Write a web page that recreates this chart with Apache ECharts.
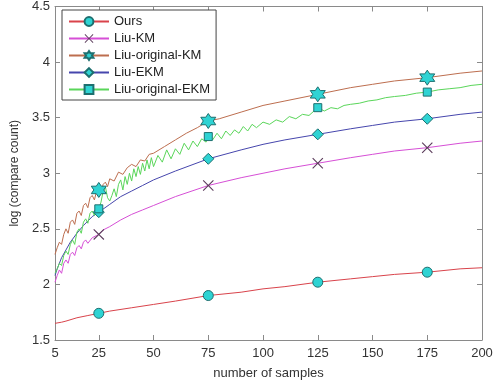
<!DOCTYPE html>
<html>
<head>
<meta charset="utf-8">
<script src="https://cdn.jsdelivr.net/npm/echarts@6/dist/echarts.min.js"></script>
<style>
  html, body { margin: 0; padding: 0; background: #fff; }
  #chart { width: 502px; height: 385px; }
</style>
</head>
<body>
<div id="chart"></div>
<script>
// x positions where markers are drawn
var markX = [25, 75, 125, 175];
var xTicks = [5, 25, 50, 75, 100, 125, 150, 175, 200];

// Ours
var oursX = [5, 8, 10, 15, 20, 25, 30, 40, 50, 60, 75, 90, 100, 110, 125, 140, 150, 160, 175, 190, 200];
var oursY = [1.65, 1.66, 1.67, 1.70, 1.72, 1.74, 1.76, 1.79, 1.82, 1.85, 1.90, 1.93, 1.96, 1.98, 2.02, 2.05, 2.07, 2.09, 2.11, 2.14, 2.15];

// Liu-KM
var kmX = [5, 6, 7, 8, 9, 10, 11, 12, 13, 14, 15, 16, 17, 18, 19, 20, 22, 24, 25, 27, 30, 35, 40, 45, 50, 60, 75, 90, 100, 110, 125, 140, 150, 160, 175, 190, 200];
var kmY = [2.02, 2.08, 2.13, 2.10, 2.19, 2.22, 2.19, 2.27, 2.29, 2.26, 2.33, 2.35, 2.32, 2.38, 2.40, 2.37, 2.42, 2.44, 2.45, 2.49, 2.52, 2.58, 2.63, 2.67, 2.71, 2.79, 2.89, 2.96, 3.00, 3.04, 3.09, 3.14, 3.17, 3.20, 3.23, 3.27, 3.29];

// Liu-original-KM
var okmX = [5, 6, 7, 8, 9, 10, 11, 12, 13, 14, 15, 16, 17, 18, 19, 20, 21, 22, 23, 24, 25, 26, 27, 28, 29, 30, 32, 34, 36, 38, 40, 42, 44, 46, 48, 50, 55, 60, 65, 70, 75, 80, 90, 100, 110, 125, 140, 150, 160, 175, 190, 200];
var okmY = [2.27, 2.33, 2.38, 2.36, 2.45, 2.50, 2.46, 2.56, 2.58, 2.54, 2.64, 2.66, 2.62, 2.71, 2.73, 2.69, 2.78, 2.80, 2.76, 2.84, 2.85, 2.83, 2.90, 2.92, 2.88, 2.95, 2.93, 3.01, 2.99, 3.05, 3.08, 3.06, 3.12, 3.11, 3.17, 3.18, 3.24, 3.30, 3.36, 3.41, 3.47, 3.49, 3.55, 3.61, 3.65, 3.71, 3.77, 3.80, 3.83, 3.86, 3.90, 3.92];

// Liu-EKM
var ekmX = [5, 6, 7, 8, 10, 12, 15, 18, 20, 22, 25, 30, 35, 40, 45, 50, 60, 75, 90, 100, 110, 125, 140, 150, 160, 175, 190, 200];
var ekmY = [2.08, 2.14, 2.19, 2.24, 2.31, 2.38, 2.46, 2.53, 2.57, 2.61, 2.65, 2.72, 2.79, 2.84, 2.89, 2.94, 3.02, 3.13, 3.21, 3.26, 3.30, 3.35, 3.40, 3.43, 3.46, 3.49, 3.53, 3.55];

// Liu-original-EKM
var oekmX = [5, 6, 7, 8, 9, 10, 11, 12, 13, 14, 15, 16, 17, 18, 19, 20, 21, 22, 23, 24, 25, 26, 27, 28, 29, 30, 31, 32, 33, 34, 35, 36, 37, 38, 39, 40, 41, 42, 43, 44, 45, 46, 47, 48, 49, 50, 52, 54, 56, 58, 60, 62, 64, 66, 68, 70, 72, 74, 75, 77, 79, 81, 83, 85, 87, 89, 91, 93, 95, 97, 100, 103, 106, 109, 112, 115, 118, 121, 125, 128, 131, 134, 137, 140, 144, 148, 152, 156, 160, 165, 170, 175, 180, 185, 190, 195, 200];
var oekmY = [2.10, 2.14, 2.19, 2.17, 2.26, 2.30, 2.27, 2.36, 2.40, 2.36, 2.47, 2.50, 2.46, 2.56, 2.59, 2.55, 2.64, 2.66, 2.62, 2.70, 2.68, 2.74, 2.84, 2.88, 2.78, 2.75, 2.80, 2.86, 2.79, 2.90, 2.94, 2.85, 2.97, 2.90, 3.00, 2.93, 3.04, 2.97, 3.06, 2.99, 3.09, 3.02, 3.12, 3.04, 3.14, 3.06, 3.16, 3.10, 3.21, 3.13, 3.22, 3.17, 3.27, 3.21, 3.29, 3.24, 3.31, 3.28, 3.33, 3.30, 3.36, 3.31, 3.38, 3.34, 3.39, 3.36, 3.42, 3.38, 3.44, 3.41, 3.46, 3.44, 3.48, 3.46, 3.51, 3.49, 3.53, 3.52, 3.59, 3.56, 3.59, 3.58, 3.61, 3.62, 3.63, 3.65, 3.66, 3.68, 3.69, 3.70, 3.72, 3.73, 3.75, 3.76, 3.77, 3.79, 3.80];

var hexagram = 'path://M0,-10L2.89,-5L8.66,-5L5.77,0L8.66,5L2.89,5L0,10L-2.89,5L-8.66,5L-5.77,0L-8.66,-5L-2.89,-5Z';
var xMark = 'path://M-10,-8.6L-8.6,-10L0,-1.4L8.6,-10L10,-8.6L1.4,0L10,8.6L8.6,10L0,1.4L-8.6,10L-10,8.6L-1.4,0Z';

function build(xs, ys) {
    var out = [];
    for (var i = 0; i < xs.length; i++) {
        if (markX.indexOf(xs[i]) >= 0) out.push([xs[i], ys[i]]);
        else out.push({ value: [xs[i], ys[i]], symbol: 'none' });
    }
    return out;
}

var font = '"Liberation Sans", Arial, sans-serif';
var boxColor = '#8a8a8a';
var markFill = '#2fd3d3';
var markEdge = '#1d6f6f';

function mkSeries(name, xs, ys, color, symbol, size, fill, edge) {
    return {
        name: name, type: 'line', data: build(xs, ys),
        symbol: symbol, symbolSize: size, showAllSymbol: true,
        lineStyle: { color: color, width: 1 },
        itemStyle: { color: fill, borderColor: edge, borderWidth: edge ? 1 : 0 },
        emphasis: { disabled: true },
        animation: false, z: 3
    };
}

var chart = echarts.init(document.getElementById('chart'));
var option = {
    backgroundColor: '#fff',
    animation: false,
    textStyle: { fontFamily: font },
    grid: { left: 55, right: 20, top: 5, bottom: 43, containLabel: false },
    legend: {
        orient: 'vertical', left: 62, top: 10,
        padding: [5, 6, 4, 6], itemGap: 4, itemWidth: 40, itemHeight: 11,
        backgroundColor: '#fff', borderColor: '#444', borderWidth: 1,
        textStyle: { fontFamily: font, fontSize: 13, color: '#222' },
        data: ['Ours', 'Liu-KM', 'Liu-original-KM', 'Liu-EKM', 'Liu-original-EKM']
    },
    xAxis: [{
        type: 'value', min: 5, max: 200,
        name: 'number of samples', nameLocation: 'middle', nameGap: 27,
        nameTextStyle: { fontFamily: font, fontSize: 13, color: '#333' },
        axisLine: { lineStyle: { color: boxColor } },
        axisTick: { inside: true, length: 5, customValues: xTicks, lineStyle: { color: boxColor } },
        axisLabel: { customValues: xTicks, fontFamily: font, fontSize: 13, color: '#333', margin: 7 },
        splitLine: { show: false }
    }, {
        type: 'value', min: 5, max: 200, position: 'top',
        axisLine: { lineStyle: { color: boxColor } },
        axisTick: { inside: true, length: 5, customValues: xTicks, lineStyle: { color: boxColor } },
        axisLabel: { show: false }, splitLine: { show: false }
    }],
    yAxis: [{
        type: 'value', min: 1.5, max: 4.5, interval: 0.5,
        name: 'log (compare count)', nameLocation: 'middle', nameGap: 30,
        nameTextStyle: { fontFamily: font, fontSize: 12, color: '#333' },
        axisLine: { show: true, lineStyle: { color: boxColor } },
        axisTick: { show: true, inside: true, length: 5, lineStyle: { color: boxColor } },
        axisLabel: { fontFamily: font, fontSize: 13, color: '#333', margin: 5 },
        splitLine: { show: false }
    }, {
        type: 'value', min: 1.5, max: 4.5, interval: 0.5, position: 'right',
        axisLine: { show: true, lineStyle: { color: boxColor } },
        axisTick: { show: true, inside: true, length: 5, lineStyle: { color: boxColor } },
        axisLabel: { show: false }, splitLine: { show: false }
    }],
    series: [
        mkSeries('Ours', oursX, oursY, '#d9434b', 'circle', 10, markFill, markEdge),
        mkSeries('Liu-KM', kmX, kmY, '#d64fd6', xMark, 11, '#5a3a5a', null),
        mkSeries('Liu-original-KM', okmX, okmY, '#bd6e4f', hexagram, 15, markFill, markEdge),
        mkSeries('Liu-EKM', ekmX, ekmY, '#4646ad', 'diamond', 11, markFill, markEdge),
        mkSeries('Liu-original-EKM', oekmX, oekmY, '#5ad65a', 'rect', 8, markFill, markEdge)
    ]
};
chart.setOption(option);
</script>
</body>
</html>
